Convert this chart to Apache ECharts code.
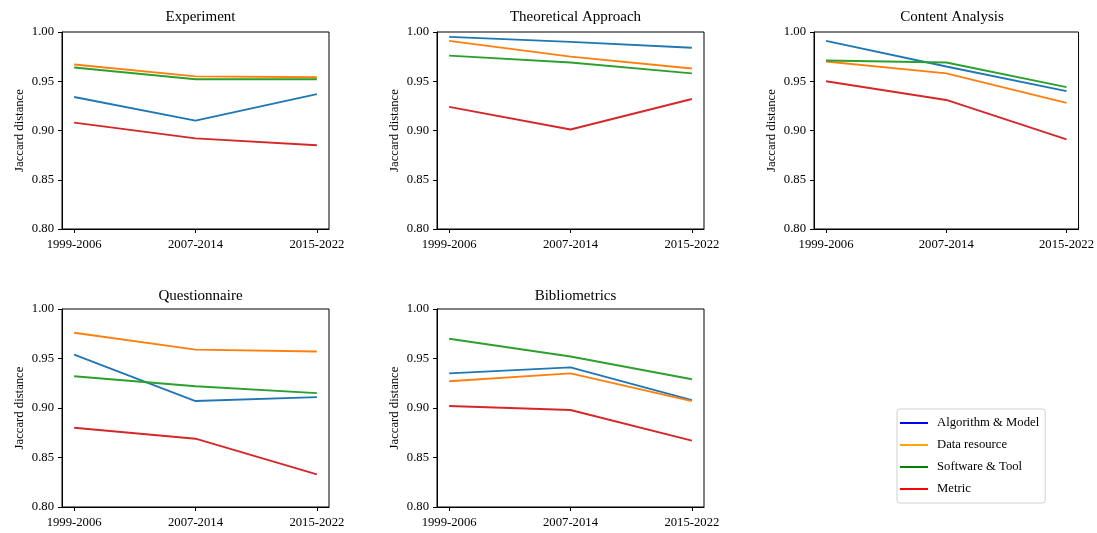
<!DOCTYPE html>
<html>
<head>
<meta charset="utf-8">
<script src="https://cdn.jsdelivr.net/npm/echarts@6/dist/echarts.min.js"></script>
<style>
html,body{margin:0;padding:0;background:#fff;}
#chart{width:1097px;height:533px;}
</style>
</head>
<body>
<div id="chart"></div>
<script>
// ---- data ----
const periods = ['1999-2006', '2007-2014', '2015-2022'];
const methods = ['Experiment', 'Theoretical Approach', 'Content Analysis', 'Questionnaire', 'Bibliometrics'];
const entities = ['Algorithm & Model', 'Data resource', 'Software & Tool', 'Metric'];
// one row per method (panel), one value per period
const algorithmModel = [
  [0.934, 0.910, 0.937],
  [0.995, 0.990, 0.984],
  [0.991, 0.965, 0.940],
  [0.954, 0.907, 0.911],
  [0.935, 0.941, 0.908]
];
const dataResource = [
  [0.967, 0.955, 0.954],
  [0.991, 0.975, 0.963],
  [0.970, 0.958, 0.928],
  [0.976, 0.959, 0.957],
  [0.927, 0.935, 0.907]
];
const softwareTool = [
  [0.964, 0.952, 0.952],
  [0.976, 0.969, 0.958],
  [0.971, 0.969, 0.944],
  [0.932, 0.922, 0.915],
  [0.970, 0.952, 0.929]
];
const metric = [
  [0.908, 0.892, 0.885],
  [0.924, 0.901, 0.932],
  [0.950, 0.931, 0.891],
  [0.880, 0.869, 0.833],
  [0.902, 0.898, 0.867]
];
const yTicks = [0.80, 0.85, 0.90, 0.95, 1.00];

// ---- styling ----
const FONT = 'Liberation Serif';
const lineColors = ['#1f77b4', '#ff7f0e', '#2ca02c', '#d62728'];
const legendColors = ['#0000ff', '#ffa500', '#008000', '#ff0000'];
const seriesData = [algorithmModel, dataResource, softwareTool, metric];

const gridRects = [
  {left: 62, top: 32, width: 267, height: 197, titleOff: 27},
  {left: 437, top: 32, width: 267, height: 197, titleOff: 27},
  {left: 814, top: 32, width: 266, height: 197, titleOff: 27},
  {left: 62, top: 309, width: 267, height: 198, titleOff: 25},
  {left: 437, top: 309, width: 267, height: 198, titleOff: 25}
];

const grids = [], xAxes = [], yAxes = [], titles = [], series = [];
const idx = periods.map((p, i) => i);

methods.forEach((m, k) => {
  const r = gridRects[k];
  grids.push({left: r.left, top: r.top, width: r.width, height: r.height,
    show: true, borderColor: '#000', borderWidth: 1, backgroundColor: 'transparent'});
  titles.push({text: m, left: r.left + r.width / 2, top: r.top - r.titleOff, textAlign: 'center',
    textStyle: {fontFamily: FONT, fontSize: 15, fontWeight: 'normal', color: '#000'}});
  xAxes.push({type: 'value', gridIndex: k, min: -0.1, max: periods.length - 0.9,
    axisLine: {show: true, onZero: false, lineStyle: {color: '#000', width: 1}},
    axisTick: {show: true, length: 4, customValues: idx, lineStyle: {color: '#000'}},
    axisLabel: {customValues: idx, formatter: v => periods[Math.round(v)], margin: 9,
      fontFamily: FONT, fontSize: 12.7, color: '#000'},
    splitLine: {show: false}});
  yAxes.push({type: 'value', gridIndex: k, min: 0.8, max: 1.0, interval: 0.05,
    name: 'Jaccard distance', nameLocation: 'middle', nameGap: 36,
    nameTextStyle: {fontFamily: FONT, fontSize: 12.7, color: '#000'},
    axisLine: {show: true, onZero: false, lineStyle: {color: '#000', width: 1}},
    axisTick: {show: true, length: 4, lineStyle: {color: '#000'}},
    axisLabel: {formatter: v => v.toFixed(2), margin: 8, fontFamily: FONT, fontSize: 12.7, color: '#000'},
    splitLine: {show: false}});
  entities.forEach((e, s) => {
    series.push({type: 'line', name: e, xAxisIndex: k, yAxisIndex: k,
      data: seriesData[s][k].map((v, i) => [i, v]),
      symbol: 'none', lineStyle: {color: lineColors[s], width: 1.9},
      itemStyle: {color: lineColors[s]}, animation: false});
  });
});

const chart = echarts.init(document.getElementById('chart'), null, {renderer: 'canvas'});
chart.setOption({
  animation: false,
  backgroundColor: '#fff',
  title: titles,
  grid: grids,
  xAxis: xAxes,
  yAxis: yAxes,
  series: series,
  legend: {
    orient: 'vertical', left: 897, top: 409,
    padding: [7, 6, 7, 3],
    borderColor: '#d0d0d0', borderWidth: 1, borderRadius: 3,
    itemWidth: 28, itemHeight: 2, itemGap: 8, icon: 'rect',
    textStyle: {fontFamily: FONT, fontSize: 12.7, color: '#000', lineHeight: 14, padding: [0, 0, 0, 4]},
    data: entities.map((e, s) => ({name: e, itemStyle: {color: legendColors[s]}}))
  }
});
</script>
</body>
</html>
